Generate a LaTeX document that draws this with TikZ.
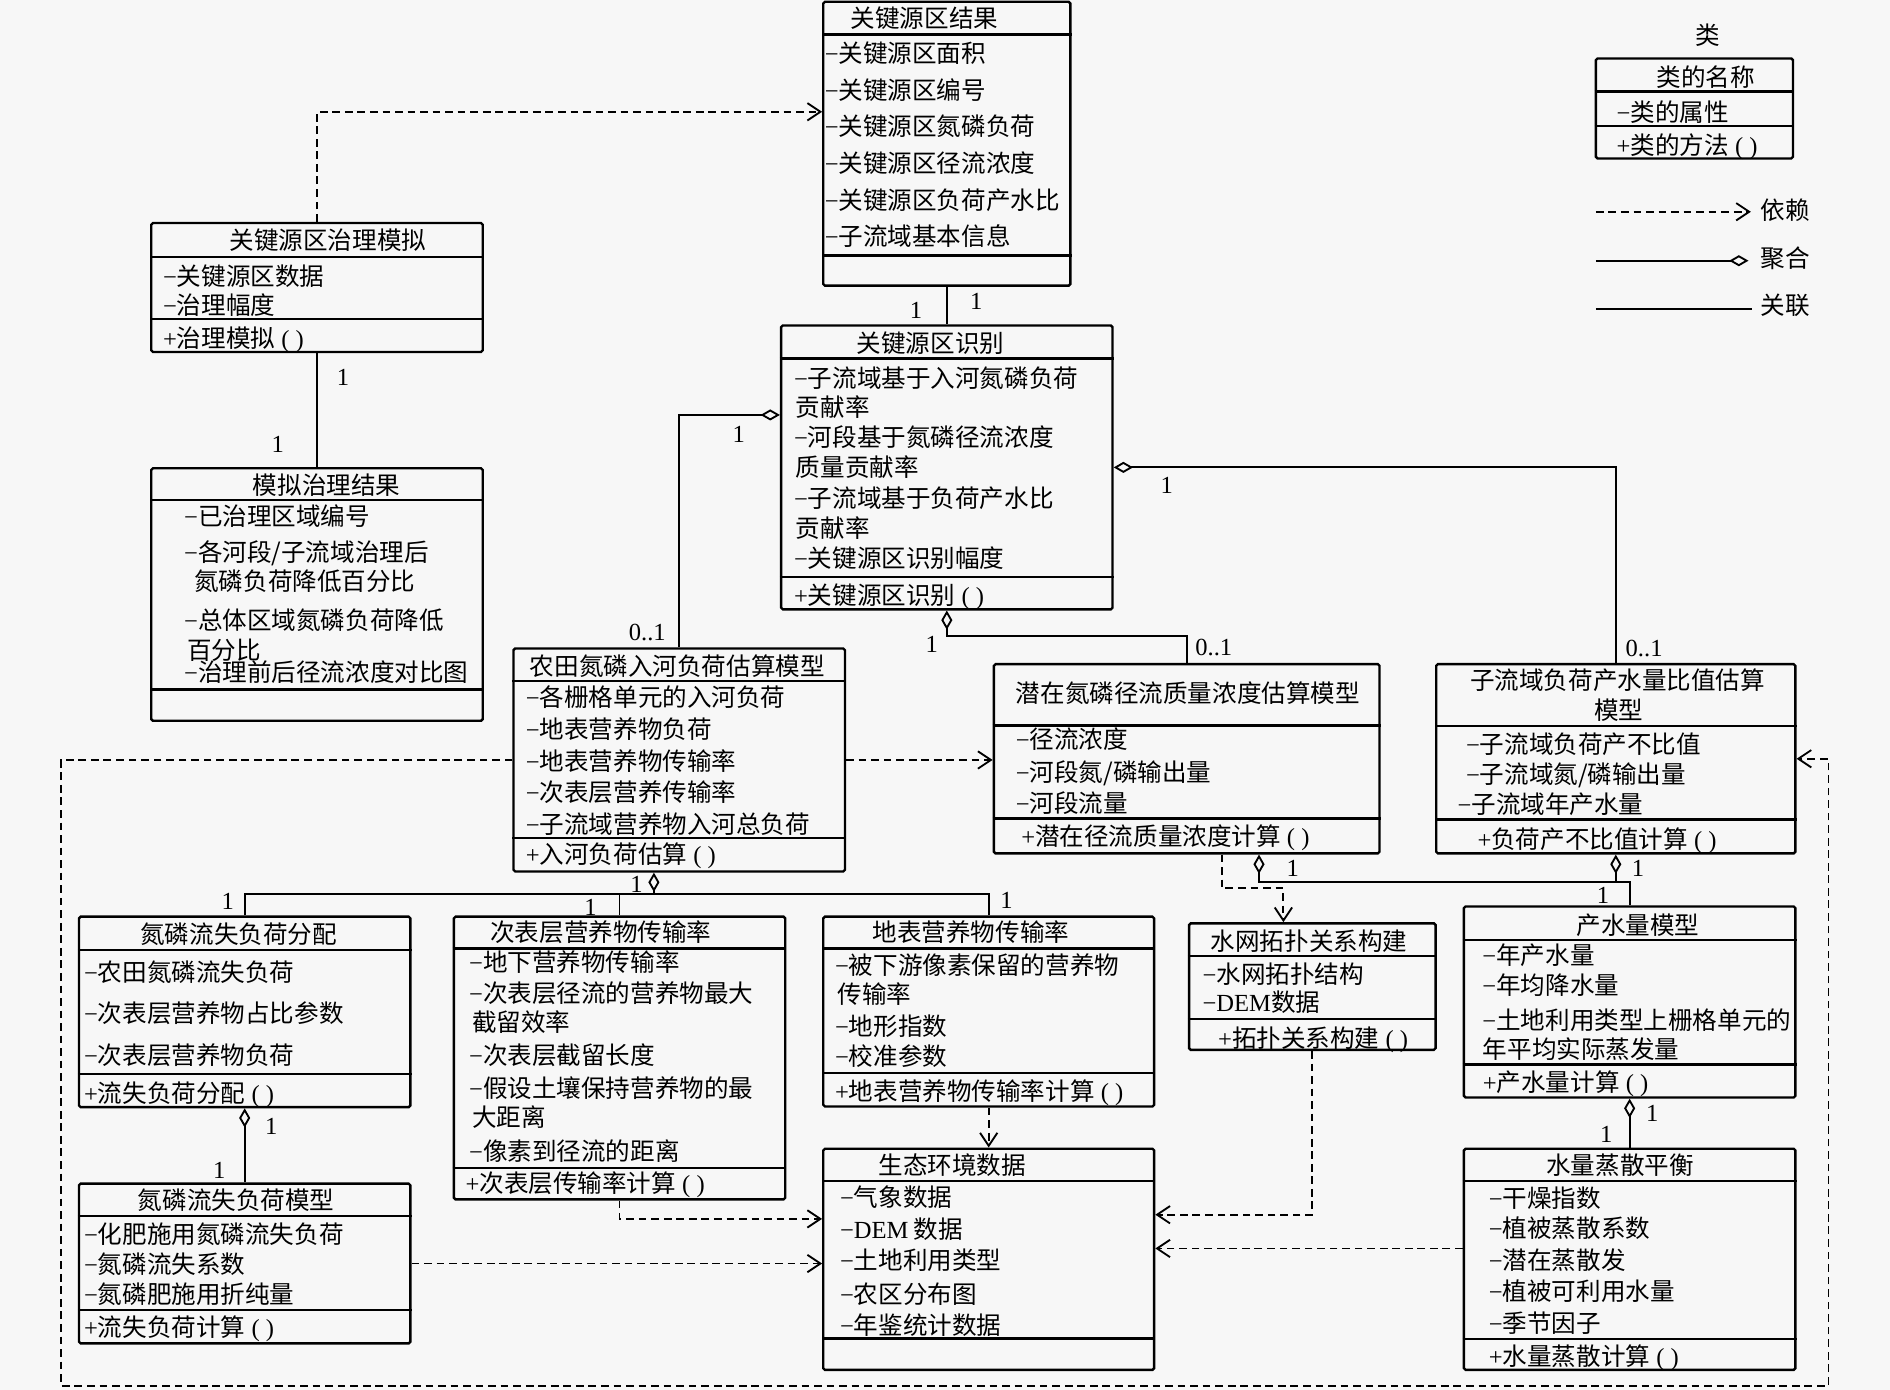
\documentclass[tikz,border=0pt]{standalone}
\usepackage{fontspec}
\setmainfont{Noto Sans CJK SC}
\newfontfamily\tnr{Liberation Serif}
\usepackage{tikz}
\usetikzlibrary{arrows.meta,fit,calc}
\definecolor{bgcol}{RGB}{247,247,247}
\newcommand{\mns}{{\tnr −}}
\newcommand{\pls}{{\tnr +}}
\newcommand{\prn}{{\tnr\ ( )}}

\begin{document}
\begin{tikzpicture}[x=0.25mm, y=-0.25mm,
		font=\fontsize{14.5pt}{17pt}\selectfont,
		box/.style={draw, line width=1.4pt, rounded corners=1pt, inner sep=0pt},
		sepline/.style={line width=1.4pt},
		title/.style={inner sep=0pt, yshift=-2pt, text height=0.88em, text depth=0.12em},
		attr/.style={title, anchor=west},
		mult/.style={inner sep=0pt, yshift=-2pt, font=\tnr\fontsize{14.5pt}{17pt}\selectfont, text height=0.66em, text depth=0pt},
		dep/.style={line width=1.1pt, dash pattern=on 1.6mm off 1mm, -{Straight Barb[length=2.7mm,width=3.6mm]}},
		agg/.style={line width=1.1pt, -{Diamond[open,length=4mm,width=2.3mm]}},
		assoc/.style={line width=1.1pt}]
		\fill[bgcol] (0,0) rectangle (1568,1153);

		\begin{scope}[every node/.style={box}]
			\node[fit={(683,1.5) (888,237)}] (result) {};
			\node[fit={(125.5,185) (400.5,292)}] (gov) {};
			\node[fit={(125.5,388.5) (400.5,598)}] (simres) {};
			\node[fit={(648,270) (923,505.5)}] (ident) {};
			\node[fit={(426,538) (701,723)}] (farm) {};
			\node[fit={(824.5,551) (1144.5,708)}] (potential) {};
			\node[fit={(1191.5,551) (1489.5,708)}] (ratio) {};
			\node[fit={(65.5,760.5) (340.5,918.5)}] (alloc) {};
			\node[fit={(65.5,982) (340.5,1114.5)}] (loss) {};
			\node[fit={(376.5,760.5) (651.5,995)}] (subsurf) {};
			\node[fit={(683,760.5) (957.5,918)}] (surf) {};
			\node[fit={(683,953) (957.5,1136.5)}] (eco) {};
			\node[fit={(986.5,766) (1191,871)}] (topo) {};
			\node[fit={(1214.5,752) (1489.5,910.5)}] (yield) {};
			\node[fit={(1214.5,953) (1489.5,1136.5)}] (evap) {};
			\node[fit={(1324,48.5) (1487.5,131.5)}] (legend) {};
		\end{scope}

		\foreach \b/\ya/\yb in {result/28.5/212, gov/213/264.5, simres/415/572, ident/297.5/478.5,
				farm/565/695, potential/602/679, ratio/602.5/680, alloc/788/891, loss/1009/1087,
				subsurf/787/969, surf/787/890, eco/980/1110.5, topo/793/845.5, yield/780/883,
				evap/980/1111, legend/76/104.3}
			\draw[sepline] (\b.west |- 0,\ya) -- (\b.east |- 0,\ya) (\b.west |- 0,\yb) -- (\b.east |- 0,\yb);

		\node[title] (legend-head) at (1416.5,29) {类};
		\node[title] (legend-t) at (1415,64) {类的名称};
		\node[attr] (legend-a) at (1341,92.7) {\mns 类的属性};
		\node[attr] (legend-m) at (1341,120.3) {\pls 类的方法\prn};

		\node[title] (result-t) at (767,15) {关键源区结果};
		\foreach \y/\t [count=\i] in {44/关键源区面积, 74.3/关键源区编号, 104.6/关键源区氮磷负荷,
				135/关键源区径流浓度, 165.3/关键源区负荷产水比, 195.6/子流域基本信息}
			\node[attr] (result-\i) at (684,\y) {\mns\t};

		\node[title] (gov-t) at (272,199) {关键源区治理模拟};
		\foreach \y/\t [count=\i] in {229/关键源区数据, 253/治理幅度}
			\node[attr] (gov-\i) at (135,\y) {\mns\t};
		\node[attr] (gov-m) at (135,280) {\pls 治理模拟\prn};

		\node[title] (simres-t) at (271,402) {模拟治理结果};
		\foreach \x/\y/\t [count=\i] in {152.5/428/\mns 已治理区域编号, 152.5/457.5/\mns 各河段\slash 子流域治理后,
				161/481.5/氮磷负荷降低百分比, 152.5/514.5/\mns 总体区域氮磷负荷降低, 155/539/百分比,
				152.5/557.5/\mns 治理前后径流浓度对比图}
			\node[attr] (simres-\i) at (\x,\y) {\t};

		\node[title] (ident-t) at (772,284.5) {关键源区识别};
		\foreach \x/\y/\t [count=\i] in {658.5/313/\mns 子流域基于入河氮磷负荷, 660/337/贡献率,
				658.5/362/\mns 河段基于氮磷径流浓度, 660/387.5/质量贡献率, 658.5/412.5/\mns 子流域基于负荷产水比,
				660/438/贡献率, 658.5/463/\mns 关键源区识别幅度}
			\node[attr] (ident-\i) at (\x,\y) {\t};
		\node[attr] (ident-m) at (658.5,493.5) {\pls 关键源区识别\prn};

		\node[title] (farm-t) at (562,552) {农田氮磷入河负荷估算模型};
		\foreach \y/\t [count=\i] in {578/各栅格单元的入河负荷, 604.4/地表营养物负荷, 630.7/地表营养物传输率,
				657/次表层营养传输率, 683.3/子流域营养物入河总负荷}
			\node[attr] (farm-\i) at (436,\y) {\mns\t};
		\node[attr] (farm-m) at (436,708) {\pls 入河负荷估算\prn};

		\node[title] (potential-t) at (985.5,575) {潜在氮磷径流质量浓度估算模型};
		\foreach \y/\t [count=\i] in {613/径流浓度, 640/河段氮\slash 磷输出量, 665.5/河段流量}
			\node[attr] (potential-\i) at (842.5,\y) {\mns\t};
		\node[attr] (potential-m) at (847,693.5) {\pls 潜在径流质量浓度计算\prn};

		\node[title] (ratio-t1) at (1342,564) {子流域负荷产水量比值估算};
		\node[title] (ratio-t2) at (1343,589) {模型};
		\foreach \x/\y/\t [count=\i] in {1216/617/子流域负荷产不比值, 1216/641.7/子流域氮\slash 磷输出量,
				1209/666.6/子流域年产水量}
			\node[attr] (ratio-\i) at (\x,\y) {\mns\t};
		\node[attr] (ratio-m) at (1225.5,695.6) {\pls 负荷产不比值计算\prn};

		\node[title] (alloc-t) at (198,775) {氮磷流失负荷分配};
		\foreach \y/\t [count=\i] in {806/农田氮磷流失负荷, 840.4/次表层营养物占比参数, 874.8/次表层营养物负荷}
			\node[attr] (alloc-\i) at (69.5,\y) {\mns\t};
		\node[attr] (alloc-m) at (69.5,906.6) {\pls 流失负荷分配\prn};

		\node[title] (loss-t) at (196,995) {氮磷流失负荷模型};
		\foreach \y/\t [count=\i] in {1023.4/化肥施用氮磷流失负荷, 1048.7/氮磷流失系数, 1073.4/氮磷肥施用折纯量}
			\node[attr] (loss-\i) at (69.5,\y) {\mns\t};
		\node[attr] (loss-m) at (69.5,1100.6) {\pls 流失负荷计算\prn};

		\node[title] (subsurf-t) at (498.5,773) {次表层营养物传输率};
		\foreach \x/\y/\t [count=\i] in {389/798/\mns 地下营养物传输率, 389/823.6/\mns 次表层径流的营养物最大,
				391.5/847.7/截留效率, 389/875/\mns 次表层截留长度, 389/902/\mns 假设土壤保持营养物的最,
				391.5/926.8/大距离, 389/954.3/\mns 像素到径流的距离}
			\node[attr] (subsurf-\i) at (\x,\y) {\t};
		\node[attr] (subsurf-m) at (386,981.4) {\pls 次表层传输率计算\prn};

		\node[title] (surf-t) at (805.5,773) {地表营养物传输率};
		\foreach \x/\y/\t [count=\i] in {692.5/800/\mns 被下游像素保留的营养物, 694.8/824.7/传输率,
				692.5/851/\mns 地形指数, 692.5/875.5/\mns 校准参数}
			\node[attr] (surf-\i) at (\x,\y) {\t};
		\node[attr] (surf-m) at (692.5,904.6) {\pls 地表营养物传输率计算\prn};

		\node[title] (eco-t) at (790,966) {生态环境数据};
		\foreach \y/\t [count=\i] in {993/气象数据, 1019/{\tnr DEM} 数据, 1045/土地利用类型, 1073/农区分布图, 1099/年鉴统计数据}
			\node[attr] (eco-\i) at (696.6,\y) {\mns\t};

		\node[title] (topo-t) at (1086,780) {水网拓扑关系构建};
		\foreach \y/\t [count=\i] in {807.4/水网拓扑结构, 831/{\tnr DEM}数据}
			\node[attr] (topo-\i) at (997.4,\y) {\mns\t};
		\node[attr] (topo-m) at (1010.4,861) {\pls 拓扑关系构建\prn};

		\node[title] (yield-t) at (1359,767) {产水量模型};
		\foreach \x/\y/\t [count=\i] in {1229.6/791.7/\mns 年产水量, 1229.6/816.5/\mns 年均降水量,
				1229.6/845.6/\mns 土地利用类型上栅格单元的, 1230/870.4/年平均实际蒸发量}
			\node[attr] (yield-\i) at (\x,\y) {\t};
		\node[attr] (yield-m) at (1230,897.4) {\pls 产水量计算\prn};

		\node[title] (evap-t) at (1344,966) {水量蒸散平衡};
		\foreach \y/\t [count=\i] in {994/干燥指数, 1018.8/植被蒸散系数, 1045/潜在蒸散发, 1070.4/植被可利用水量, 1097.5/季节因子}
			\node[attr] (evap-\i) at (1235,\y) {\mns\t};
		\node[attr] (evap-m) at (1235,1124.5) {\pls 水量蒸散计算\prn};

		\node[attr] (lgd-dep) at (1460.6,174) {依赖};
		\node[attr] (lgd-agg) at (1460.6,213.6) {聚合};
		\node[attr] (lgd-assoc) at (1460.6,253) {关联};
		\coordinate (lgd-a) at (1324,175.7);
		\coordinate (lgd-b) at (1324,216.3);
		\coordinate (lgd-c) at (1324,256.7);
		\draw[dep] (lgd-a) -- ($(lgd-a -| lgd-dep.west)+(-8,0)$);
		\draw[agg] (lgd-b) -- ($(lgd-b -| lgd-agg.west)+(-10,0)$);
		\draw[assoc] (lgd-c) -- ($(lgd-c -| lgd-assoc.west)+(-7,0)$);

		\draw[dep] (gov.north) |- ($(result.west)+(0,-26.5)$);
		\draw[dep] (farm.east) -- (farm.east -| potential.west);
		\coordinate (loop-sw) at (50.5,1149.5);
		\coordinate (loop-se) at (1517,1149.5);
		\draw[dep] (farm.west) -| (loop-sw) -- (loop-se) |- (ratio.east);
		\draw[dep] (loss.east) -- (loss.east -| eco.west);
		\draw[dep] (subsurf.south) |- ($(eco.west)+(0,-33.5)$);
		\draw[dep] (surf.south) -- (eco.north);
		\draw[dep] (topo.south) |- ($(eco.east)+(0,-37)$);
		\draw[dep] ($(evap.west)+(0,-9)$) -- ($(eco.east)+(0,-9)$);
		\coordinate (pt-a) at ($(potential.south)+(29,0)$);
		\coordinate (pt-b) at ($(topo.north)+(-24,0)$);
		\draw[dep] (pt-a) |- ($(pt-a)!0.5!(pt-b)$) -| (pt-b);

		\draw[assoc] (gov.south) -- (simres.north);
		\draw[assoc] (result.south) -- (ident.north);
		\draw[agg] (farm.north) |- ($(ident.west)+(0,-43.5)$);
		\draw[agg] (ratio.north) |- (ident.east);
		\draw[agg] (potential.north) |- ($(ident.south)+(0,21)$) -- (ident.south);
		\coordinate (fd) at ($(farm.south)+(-21,0)$);
		\draw[agg] (alloc.north) |- ($(fd)+(0,18)$) -- (fd);
		\draw[assoc] (subsurf.north) |- ($(fd)+(0,18)$);
		\draw[assoc] (surf.north) |- ($(fd)+(0,18)$);
		\draw[agg] (loss.north) -- (alloc.south);
		\coordinate (pd) at ($(potential.south)+(60,0)$);
		\draw[agg] (yield.north) |- ($(pd)+(0,23)$) -- (pd);
		\draw[agg] ($(ratio.south)+(0,23)$) -- (ratio.south);
		\draw[agg] (evap.north) -- (yield.south);

		\foreach \x/\y/\t [count=\i] in {284.5/312/1, 230.5/368/1, 760/257/1, 810/249/1, 613/360/1, 537/524/{0..1},
				968/402/1, 1364/537/{0..1}, 773/533.5/1, 1007/536/{0..1}, 528/733/1, 189/747/1, 490/752/1,
				835/746/1, 225/933.6/1, 182/970/1, 1072.6/720/1, 1359/720/1, 1330/742/1, 1370.7/923/1, 1332.5/940/1}
			\node[mult] (mult-\i) at (\x,\y) {\t};
	\end{tikzpicture}
\end{document}
